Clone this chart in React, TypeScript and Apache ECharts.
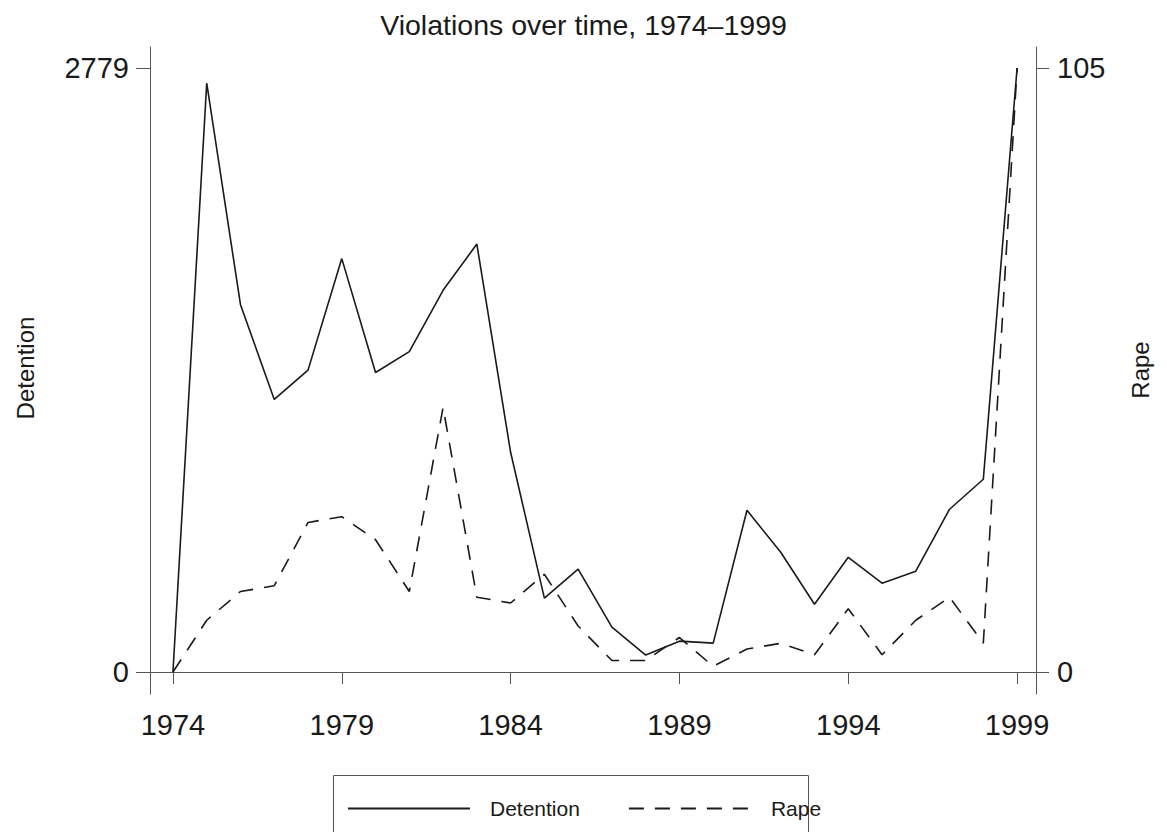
import React, { useEffect, useRef } from "react";
import * as echarts from "echarts";

const years = [1974, 1975, 1976, 1977, 1978, 1979, 1980, 1981, 1982, 1983, 1984, 1985, 1986, 1987, 1988, 1989, 1990, 1991, 1992, 1993, 1994, 1995, 1996, 1997, 1998, 1999];
const detention = [0, 2709, 1690, 1254, 1389, 1902, 1378, 1474, 1756, 1969, 1011, 340, 473, 207, 78, 142, 133, 744, 551, 312, 528, 409, 464, 749, 887, 2779];
const rape = [0, 9, 14, 15, 26, 27, 23, 14, 46, 13, 12, 17, 8, 2, 2, 6, 1, 4, 5, 3, 11, 3, 9, 13, 5, 105];
const xTicks = [1974, 1979, 1984, 1989, 1994, 1999];
const leftTicks = [0, 2779];
const rightTicks = [0, 105];

const FONT = "Liberation Sans, Arial, Helvetica, sans-serif";
const LINE = "#1a1a1a";
const AXIS = "#555555";
const plain = (v: number) => String(Math.round(v));

export default function App() {
  const ref = useRef<HTMLDivElement>(null);
  useEffect(() => {
    if (!ref.current) return;
    const chart = echarts.init(ref.current, undefined, { renderer: "svg" });
    const axisCommon = {
      axisLine: { show: true, lineStyle: { color: AXIS, width: 1 } },
      axisTick: { show: true, length: 13, lineStyle: { color: AXIS, width: 1 } },
      splitLine: { show: false },
    };
    chart.setOption({
      animation: false,
      backgroundColor: "#ffffff",
      textStyle: { fontFamily: FONT },
      title: {
        text: "Violations over time, 1974\u20131999",
        left: "center",
        top: 5,
        textStyle: { fontFamily: FONT, fontSize: 28.5, fontWeight: "normal", color: "#1a1a1a" },
      },
      grid: { left: 150, right: 131, top: 47, bottom: 138 },
      legend: {
        show: true,
        left: 347,
        top: 798,
        padding: 0,
        itemWidth: 122,
        itemHeight: 14,
        itemGap: 48,
        itemStyle: { opacity: 0 },
        textStyle: { fontFamily: FONT, fontSize: 21, color: "#1a1a1a", padding: [0, 0, 0, 15] },
        data: ["Detention", "Rape"],
      },
      xAxis: {
        type: "value",
        min: 1973.32,
        max: 1999.56,
        ...axisCommon,
        axisTick: { ...axisCommon.axisTick, length: 12, customValues: xTicks },
        axisLabel: {
          customValues: xTicks,
          formatter: plain,
          margin: 16,
          fontSize: 29,
          fontFamily: FONT,
          color: "#1a1a1a",
        },
      },
      yAxis: [
        {
          type: "value",
          position: "left",
          min: -101.05,
          max: 2875.5,
          ...axisCommon,
          axisTick: { ...axisCommon.axisTick, length: 14, customValues: leftTicks },
          axisLabel: { customValues: leftTicks, formatter: plain, margin: 21, fontSize: 29, fontFamily: FONT, color: "#1a1a1a" },
        },
        {
          type: "value",
          position: "right",
          min: -3.818,
          max: 108.645,
          ...axisCommon,
          axisTick: { ...axisCommon.axisTick, length: 13, customValues: rightTicks },
          axisLabel: { customValues: rightTicks, formatter: plain, margin: 21, fontSize: 29, fontFamily: FONT, color: "#1a1a1a" },
        },
      ],
      series: [
        {
          name: "Detention",
          type: "line",
          yAxisIndex: 0,
          symbol: "none",
          data: years.map((y, i) => [y, detention[i]]),
          lineStyle: { color: LINE, width: 1.6, type: "solid" },
          itemStyle: { color: LINE },
        },
        {
          name: "Rape",
          type: "line",
          yAxisIndex: 1,
          symbol: "none",
          data: years.map((y, i) => [y, rape[i]]),
          lineStyle: { color: LINE, width: 1.6, type: [15, 11] },
          itemStyle: { color: LINE },
        },
      ],
      graphic: [
        {
          type: "rect",
          shape: { x: 333.5, y: 775.5, width: 475, height: 100 },
          style: { fill: "none", stroke: AXIS, lineWidth: 1 },
          silent: true,
        },
        {
          type: "text",
          x: 25,
          y: 368,
          rotation: Math.PI / 2,
          style: {
            text: "Detention",
            fontFamily: FONT,
            fontSize: 24,
            fill: "#1a1a1a",
            textAlign: "center",
            textVerticalAlign: "middle",
          },
        },
        {
          type: "text",
          x: 1140,
          y: 370,
          rotation: Math.PI / 2,
          style: {
            text: "Rape",
            fontFamily: FONT,
            fontSize: 24,
            fill: "#1a1a1a",
            textAlign: "center",
            textVerticalAlign: "middle",
          },
        },
      ],
    });
    return () => chart.dispose();
  }, []);
  return (
    <div
      ref={ref}
      style={{ position: "fixed", left: 0, top: 0, width: 1167, height: 832, background: "#fff" }}
    />
  );
}
